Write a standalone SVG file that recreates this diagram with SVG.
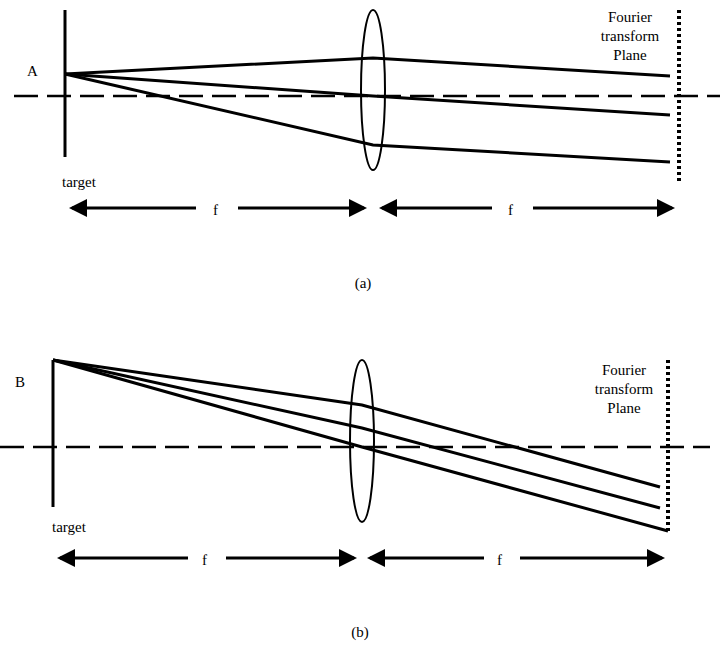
<svg xmlns="http://www.w3.org/2000/svg" width="720" height="650" viewBox="0 0 720 650">
<style>
.l{stroke:#000;stroke-width:3;fill:none}
.d{stroke:#000;stroke-width:2.5;stroke-dasharray:24,9;fill:none}
.p{stroke:#000;stroke-width:4;stroke-dasharray:3,3;fill:none}
.e{stroke:#000;stroke-width:2;fill:none}
.s{stroke:#000;stroke-width:3;fill:none;marker-start:url(#m)}
.t{stroke:#000;stroke-width:3;fill:none;marker-end:url(#m)}
text{font-family:"Liberation Serif",serif;font-size:15px;fill:#000000}
.c{text-anchor:middle}
</style>
<defs><marker id="m" markerWidth="6" markerHeight="6" refX="5" refY="3" orient="auto-start-reverse" markerUnits="strokeWidth"><path d="M0,0L6,3L0,6Z" fill="#000"/></marker></defs>
<g id="panelA">
<g id="targetA"><line class="l" x1="65" y1="10" x2="65" y2="157"/><text x="27" y="76">A</text><text x="62" y="187">target</text></g>
<g id="lensA"><ellipse class="e" cx="373" cy="90" rx="12" ry="80"/></g>
<g id="planeA"><line class="p" x1="679" y1="10" x2="679" y2="183"/><text class="c" x="630" y="22">Fourier</text><text class="c" x="630" y="41">transform</text><text class="c" x="630" y="60">Plane</text></g>
<g id="connA">
<line class="d" x1="14" y1="96" x2="720" y2="96"/>
<polyline class="l" points="65,74 373,58 670,76"/>
<polyline class="l" points="65,74 373,96 670,115"/>
<polyline class="l" points="65,74 373,145 670,162"/>
<line class="s" x1="72" y1="208" x2="196" y2="208"/><line class="t" x1="238" y1="208" x2="364" y2="208"/>
<line class="s" x1="382" y1="208" x2="492" y2="208"/><line class="t" x1="533" y1="208" x2="672" y2="208"/>
</g>
<text x="213" y="215">f</text><text x="508" y="215">f</text>
<text class="c" x="363" y="288">(a)</text>
</g>
<g id="panelB">
<g id="targetB"><line class="l" x1="53" y1="360" x2="53" y2="507"/><text x="15" y="387">B</text><text x="52" y="532">target</text></g>
<g id="lensB"><ellipse class="e" cx="362" cy="441" rx="12" ry="81"/></g>
<g id="planeB"><line class="p" x1="668" y1="360" x2="668" y2="532"/><text class="c" x="624" y="375">Fourier</text><text class="c" x="624" y="394">transform</text><text class="c" x="624" y="413">Plane</text></g>
<g id="connB">
<line class="d" x1="0" y1="447" x2="710" y2="447"/>
<polyline class="l" points="53,360 362,405 660,487"/>
<polyline class="l" points="53,360 362,428 660,508"/>
<polyline class="l" points="53,360 362,447 668,531"/>
<line class="s" x1="60" y1="558" x2="188" y2="558"/><line class="t" x1="226" y1="558" x2="354" y2="558"/>
<line class="s" x1="370" y1="558" x2="484" y2="558"/><line class="t" x1="520" y1="558" x2="662" y2="558"/>
</g>
<text x="202" y="565">f</text><text x="497" y="565">f</text>
<text class="c" x="360" y="637">(b)</text>
</g>
</svg>
